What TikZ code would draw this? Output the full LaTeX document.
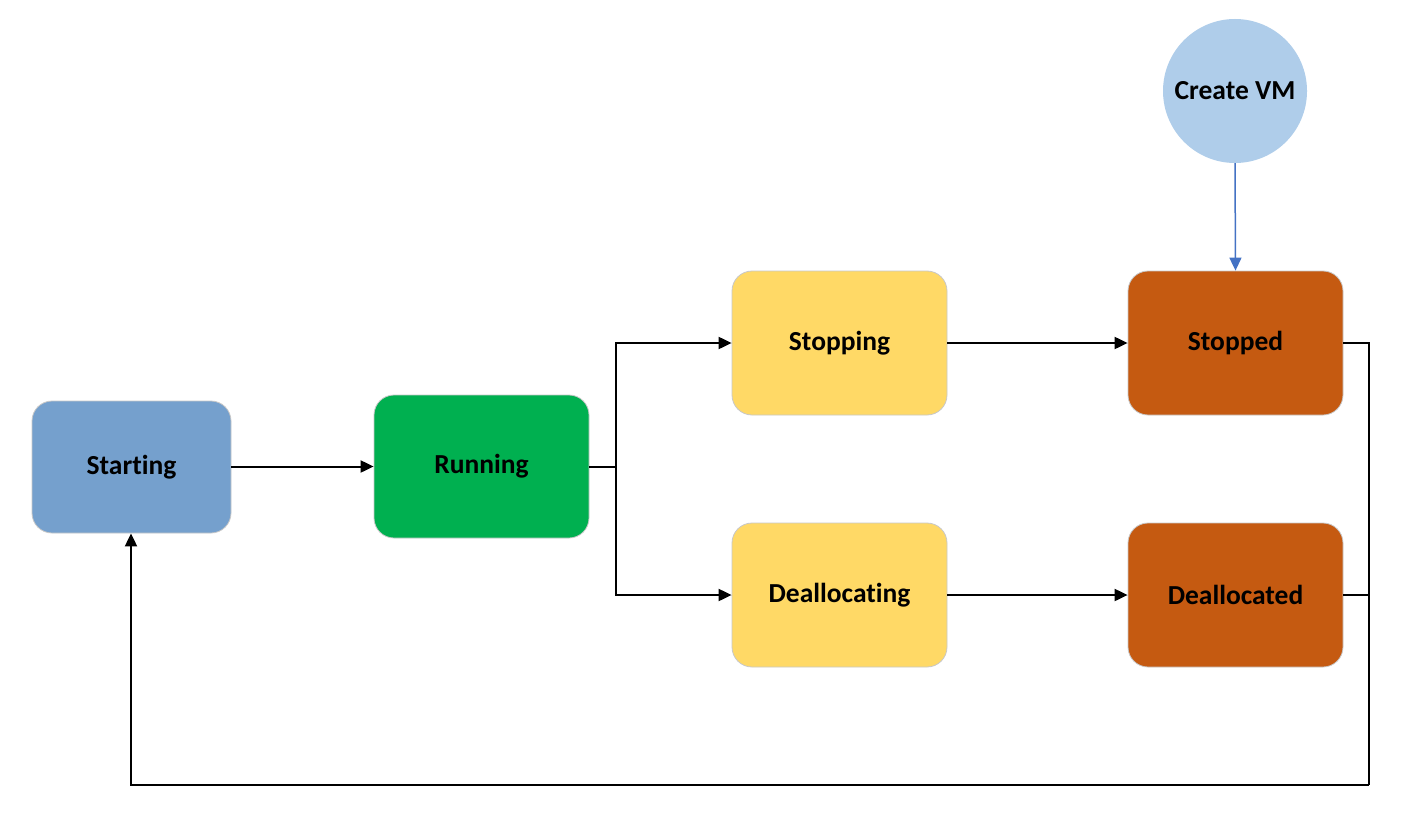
\documentclass[tikz,border=0pt]{standalone}
\usepackage{fontspec}
\setmainfont[Ligatures=NoCommon]{Carlito}
\usetikzlibrary{arrows.meta}
\definecolor{startblue}{HTML}{75A0CD}
\definecolor{rungreen}{HTML}{00B050}
\definecolor{waityellow}{HTML}{FFD966}
\definecolor{haltorange}{HTML}{C55A11}
\definecolor{createblue}{HTML}{AFCDEA}
\definecolor{linkblue}{HTML}{4472C4}
\definecolor{edgegray}{HTML}{C8C8C8}
\begin{document}
\begin{tikzpicture}[x=1pt,y=-1pt,
  labelfont/.style={font=\fontsize{27.5}{32}\selectfont\bfseries, text=black},
  statebox/.style={draw=edgegray, line width=0.8pt, rounded corners=20pt,
    labelfont, minimum width=215pt, minimum height=144pt, inner sep=0pt},
  flow/.style={draw=black, line width=2pt, -{Triangle[length=13pt,width=12pt]}},
  plain/.style={draw=black, line width=2pt}]
\useasboundingbox (0,0) rectangle (1423,824);
\fill[white] (0,0) rectangle (1423,824);

% states
\node[statebox, fill=startblue, minimum width=199pt, minimum height=132pt] (starting) at (131.5,467) {Starting};
\node[statebox, fill=rungreen, minimum height=143pt] (running) at (481.5,466.5) {Running};
\node[statebox, fill=waityellow] (stopping) at (839.5,343) {Stopping};
\node[statebox, fill=haltorange] (stopped) at (1235.5,343) {Stopped};
\node[statebox, fill=waityellow] (deallocating) at (839.5,595) {Deallocating};
\node[statebox, fill=haltorange] (deallocated) at (1235.5,595) {Deallocated};
\node[circle, fill=createblue, minimum size=144pt, inner sep=0pt, labelfont] (create) at (1235,91) {Create VM};

% routing points
\coordinate (fork) at (616,466.5);
\coordinate (joinA) at (1369,343);
\coordinate (joinB) at (1369,595);
\coordinate (loopR) at (1369,785);
\coordinate (loopL) at (131,785);

% connectors
\draw[flow] (starting.east |- running.west) -- (running.west);
\draw[plain] (running.east) -- (fork);
\draw[flow] (fork) |- (stopping.west);
\draw[flow] (fork) |- (deallocating.west);
\draw[flow] (stopping) -- (stopped);
\draw[flow] (deallocating) -- (deallocated);
\draw[plain] (stopped.east) -- (joinA) -- (loopR);
\draw[plain] (deallocated.east) -- (joinB);
\draw[flow] (loopR) -- (loopL) -- (loopL |- starting.south);
\draw[draw=linkblue, line width=1.5pt, -{Triangle[length=13pt,width=12pt]}] (create.south) -- (stopped.north);
\end{tikzpicture}
\end{document}
